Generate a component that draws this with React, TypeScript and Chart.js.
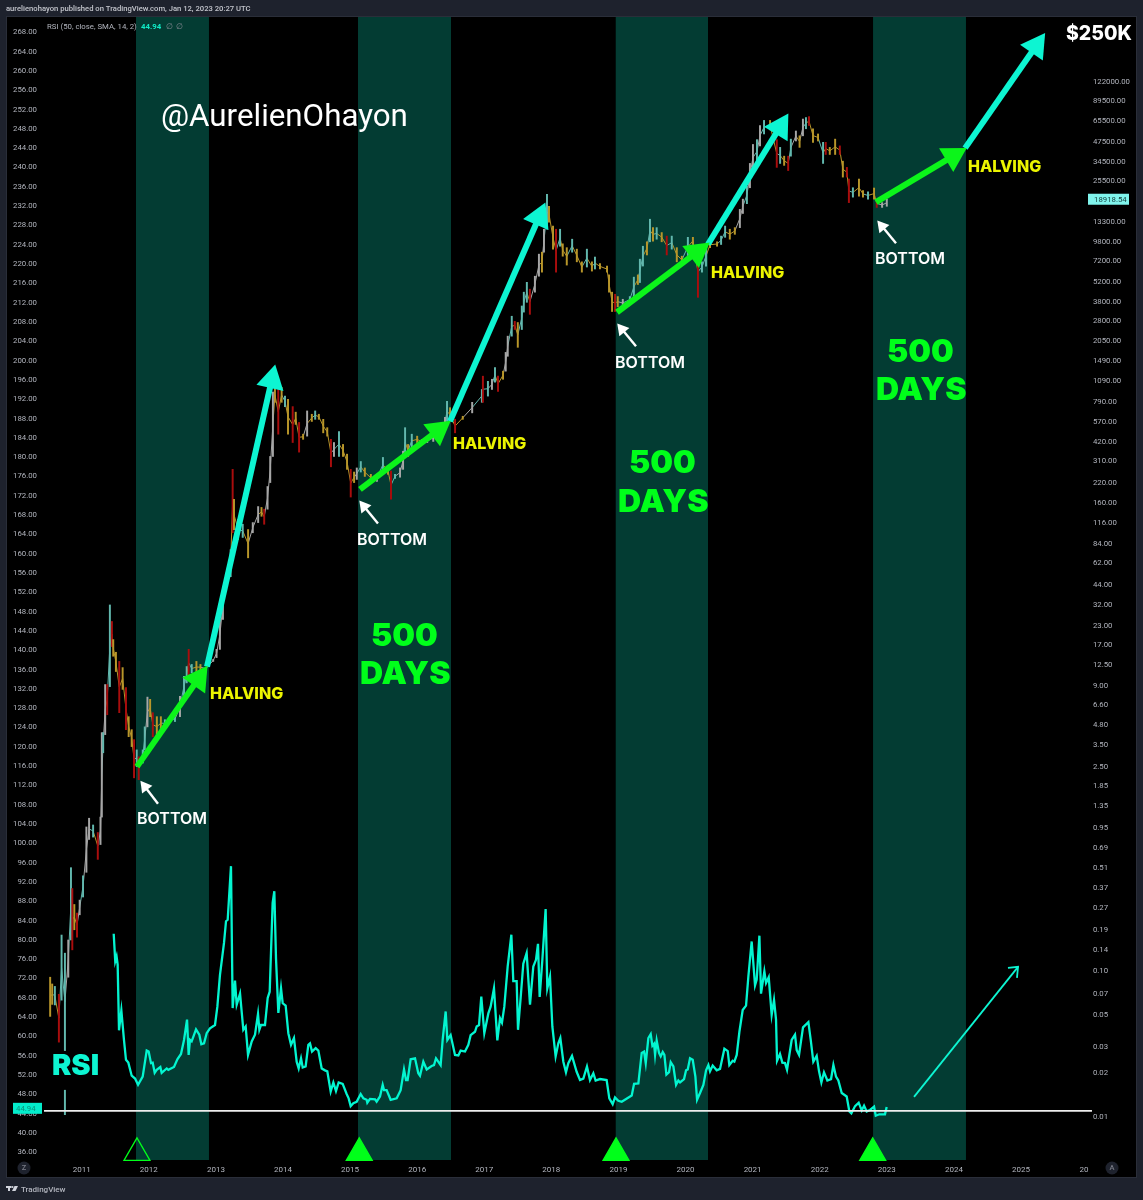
import { useEffect, useRef } from "react";
import { Chart, Plugin } from "chart.js/auto";

// time axis
const yearTicks = [2011, 2012, 2013, 2014, 2015, 2016, 2017, 2018, 2019, 2020, 2021, 2022, 2023, 2024, 2025, 2025.94];
const yearLabels = ["2011", "2012", "2013", "2014", "2015", "2016", "2017", "2018", "2019", "2020", "2021", "2022", "2023", "2024", "2025", "20"];

// left axis (RSI scale) and right axis (BTC price, log)
const rsiTicks = [268, 264, 260, 256, 252, 248, 244, 240, 236, 232, 228, 224, 220, 216, 212, 208, 204, 200, 196, 192, 188, 184, 180, 176, 172, 168, 164, 160, 156, 152, 148, 144, 140, 136, 132, 128, 124, 120, 116, 112, 108, 104, 100, 96, 92, 88, 84, 80, 76, 72, 68, 64, 60, 56, 52, 48, 44, 40, 36];
const priceTicks = [122000, 89500, 65500, 47500, 34500, 25500, 13300, 9800, 7200, 5200, 3800, 2800, 2050, 1490, 1090, 790, 570, 420, 310, 220, 160, 116, 84, 62, 44, 32, 23, 17, 12.5, 9, 6.6, 4.8, 3.5, 2.5, 1.85, 1.35, 0.95, 0.69, 0.51, 0.37, 0.27, 0.19, 0.14, 0.1, 0.07, 0.05, 0.03, 0.02, 0.01];

const lastRsi = 44.94;
const lastPrice = 18918.54;
const rsiLevel = 44.29;

// the 500 day windows
const bandStarts = [2011.809, 2015.118, 2018.956, 2022.795];
const bandEnds = [2012.897, 2016.505, 2020.335, 2024.18];
const markerDates = [2011.824, 2015.137, 2018.964, 2022.79];
const markerLevels = [35.6, 35.6, 35.6, 35.6];

const rsiDates = [
  2011.477, 2011.5, 2011.52, 2011.536, 2011.556, 2011.591, 2011.63, 2011.66, 2011.695, 2011.745, 2011.795, 2011.84, 2011.909, 2011.969, 2011.998,
  2012.033, 2012.058, 2012.088, 2012.118, 2012.172, 2012.192, 2012.267, 2012.291, 2012.376, 2012.426, 2012.48, 2012.525, 2012.57, 2012.594, 2012.614, 2012.639, 2012.704, 2012.753, 2012.783, 2012.823, 2012.863, 2012.912, 2012.987,
  2013.022, 2013.061, 2013.121, 2013.151, 2013.176, 2013.225, 2013.25, 2013.285, 2013.31, 2013.36, 2013.409, 2013.444, 2013.479, 2013.534, 2013.583, 2013.628, 2013.648, 2013.673, 2013.732, 2013.772, 2013.802, 2013.846, 2013.871, 2013.896, 2013.931, 2013.971, 2013.996,
  2014.04, 2014.08, 2014.12, 2014.164, 2014.204, 2014.234, 2014.269, 2014.294, 2014.338, 2014.378, 2014.403, 2014.433, 2014.487, 2014.527, 2014.577, 2014.626, 2014.661, 2014.711, 2014.751, 2014.79, 2014.83, 2014.89, 2014.949, 2014.979,
  2015.009, 2015.049, 2015.098, 2015.158, 2015.198, 2015.247, 2015.257, 2015.297, 2015.372, 2015.396, 2015.446, 2015.486, 2015.506, 2015.545, 2015.605, 2015.695, 2015.754, 2015.804, 2015.834, 2015.858, 2015.903, 2015.968,
  2016.017, 2016.042, 2016.092, 2016.142, 2016.216, 2016.251, 2016.281, 2016.35, 2016.38, 2016.425, 2016.45, 2016.499, 2016.564, 2016.614, 2016.648, 2016.713, 2016.763, 2016.797, 2016.862, 2016.887, 2016.922, 2016.956,
  2017.001, 2017.061, 2017.095, 2017.145, 2017.195, 2017.235, 2017.264, 2017.299, 2017.349, 2017.404, 2017.433, 2017.483, 2017.503, 2017.543, 2017.582, 2017.632, 2017.682, 2017.731, 2017.771, 2017.801, 2017.826, 2017.866, 2017.915, 2017.94, 2017.98,
  2018.015, 2018.064, 2018.104, 2018.134, 2018.179, 2018.218, 2018.253, 2018.308, 2018.377, 2018.427, 2018.477, 2018.531, 2018.576, 2018.626, 2018.66, 2018.725, 2018.824, 2018.864, 2018.914, 2018.949, 2018.998,
  2019.049, 2019.198, 2019.233, 2019.297, 2019.347, 2019.382, 2019.407, 2019.446, 2019.481, 2019.506, 2019.531, 2019.546, 2019.57, 2019.605, 2019.63, 2019.66, 2019.685, 2019.715, 2019.754, 2019.779, 2019.819, 2019.859, 2019.893, 2019.918, 2019.978,
  2020.008, 2020.033, 2020.067, 2020.107, 2020.147, 2020.172, 2020.216, 2020.266, 2020.306, 2020.341, 2020.365, 2020.405, 2020.465, 2020.514, 2020.579, 2020.629, 2020.653, 2020.703, 2020.728, 2020.763, 2020.803, 2020.852, 2020.902, 2020.937, 2020.986,
  2021.036, 2021.061, 2021.101, 2021.125, 2021.175, 2021.2, 2021.24, 2021.284, 2021.319, 2021.349, 2021.364, 2021.408, 2021.443, 2021.483, 2021.513, 2021.582, 2021.632, 2021.657, 2021.692, 2021.751, 2021.831, 2021.866, 2021.905, 2021.955, 2021.99,
  2022.025, 2022.064, 2022.114, 2022.169, 2022.204, 2022.243, 2022.278, 2022.328, 2022.402, 2022.442, 2022.472, 2022.527, 2022.581, 2022.626, 2022.661, 2022.7, 2022.75, 2022.81, 2022.835, 2022.889, 2022.973, 2022.998,
];
const rsiValues = [
  81, 75.3, 76.3, 74.6, 61, 65.1, 59, 54.9, 54.3, 51.6, 51, 49.7, 51.4, 56.8, 56.6,
  54.2, 54.3, 52.2, 52.8, 53.4, 52.2, 53.1, 52.8, 53.4, 55, 56.1, 59, 63.2, 55.9, 59, 58.7, 61.2, 60.1, 58.1, 58.3, 60.4, 61.4, 62.1,
  65.9, 72.5, 79.1, 83.6, 83.9, 95, 65.6, 71.3, 66.3, 68.6, 61.1, 61.8, 55.9, 58.7, 60.1, 64.4, 61.1, 62.1, 62.1, 67.7, 69, 87.4, 89.8, 75.9, 64.6, 69.7, 66.6,
  66.1, 60.4, 58, 59.4, 54.5, 53.1, 55.2, 53.3, 53.5, 58, 58.3, 56.6, 57.3, 56.8, 53.1, 52.7, 52.5, 48.3, 50.2, 48.4, 50.2, 49.9, 47.8, 46.9,
  45.3, 45.9, 46.2, 47.8, 46.9, 46.6, 46, 46.8, 46.7, 46.2, 47.3, 49.7, 48.6, 48.6, 46.6, 46.9, 48.6, 52.9, 50.7, 50.7, 55, 55.2,
  52.1, 51.6, 54.5, 52.9, 53.6, 53.8, 55.2, 53.8, 59, 64.9, 59, 60, 55.9, 55.8, 56.8, 56.6, 58, 60, 60.7, 61.8, 62.1, 68,
  60.4, 64.5, 65.9, 69.7, 58.9, 63.5, 62.6, 65.9, 74.2, 80.8, 71.2, 71.2, 61.1, 67.8, 74.8, 77, 66.3, 74.2, 75.6, 78.9, 67.9, 75.6, 86.1, 69.7, 72.1,
  61.8, 55.6, 58.3, 59.4, 54.5, 52.3, 54.2, 55.7, 52.4, 50.7, 51, 53.5, 50.7, 52.1, 50.6, 50.9, 50.7, 46.9, 45.7, 47.1, 46.4,
  46.2, 47.5, 49.9, 50, 56.3, 56.6, 54.2, 59.4, 60.2, 57.8, 58.2, 55.9, 58.9, 56.3, 55.6, 56.5, 55.9, 51.8, 52.3, 54.4, 53.5, 49.7, 50.6, 50.2, 50.9,
  52.7, 52.9, 55.2, 54.9, 51.4, 46.6, 48, 49.7, 52.7, 53.8, 52.5, 53.7, 52.7, 53, 57.2, 56.7, 53.8, 54.7, 54.5, 55.9, 60.7, 65.2, 66.1, 72.2, 79.4,
  70.3, 71.5, 80.6, 68.6, 73.2, 70.8, 72, 64.2, 67.3, 63.2, 54.7, 56.1, 54.3, 54.2, 52.8, 59, 60.1, 56.9, 55.9, 61.6, 62.7, 59, 54.5, 55.7, 52.5,
  50.2, 52.3, 50.6, 50.9, 53.8, 51.4, 50.6, 48, 47.3, 44.2, 43.8, 45.3, 46, 44.4, 45.4, 44.2, 44.5, 45.2, 43.3, 43.6, 43.6, 45.1,
];

// price candles, read as low/high ranges. kinds: g gray up, t teal up, o gold down, r red wick
const candleDates = [
  2010.53, 2010.56, 2010.6, 2010.66, 2010.7, 2010.75, 2010.75, 2010.8, 2010.84, 2010.86,
  2010.89, 2010.93, 2010.97, 2011.02, 2011.07, 2011.11, 2011.17, 2011.24, 2011.28, 2011.3,
  2011.32, 2011.35, 2011.38, 2011.42, 2011.45, 2011.47, 2011.51, 2011.56, 2011.61, 2011.66,
  2011.7, 2011.745, 2011.78, 2011.82, 2011.85, 2011.91, 2011.94, 2011.98, 2012.02, 2012.06,
  2012.12, 2012.18, 2012.24, 2012.32, 2012.39, 2012.465, 2012.525, 2012.565, 2012.595, 2012.64,
  2012.71, 2012.77, 2012.85, 2012.96, 2013.01, 2013.06, 2013.105, 2013.15, 2013.22, 2013.25,
  2013.27, 2013.33, 2013.4, 2013.48, 2013.55, 2013.63, 2013.68, 2013.72, 2013.77, 2013.81,
  2013.85, 2013.88, 2013.93, 2013.98, 2014.03, 2014.075, 2014.145, 2014.19, 2014.24, 2014.3,
  2014.36, 2014.43, 2014.48, 2014.535, 2014.6, 2014.66, 2014.715, 2014.76, 2014.835, 2014.895,
  2014.955, 2015.01, 2015.06, 2015.1, 2015.16, 2015.22, 2015.31, 2015.4, 2015.49, 2015.565,
  2015.61, 2015.67, 2015.745, 2015.79, 2015.82, 2015.865, 2015.92, 2016, 2016.07, 2016.15,
  2016.24, 2016.34, 2016.415, 2016.445, 2016.49, 2016.565, 2016.68, 2016.82, 2016.965, 2016.98,
  2017.055, 2017.115, 2017.16, 2017.205, 2017.28, 2017.32, 2017.35, 2017.41, 2017.455, 2017.5,
  2017.56, 2017.59, 2017.635, 2017.68, 2017.755, 2017.815, 2017.86, 2017.89, 2017.935, 2017.965,
  2018.025, 2018.07, 2018.13, 2018.17, 2018.23, 2018.31, 2018.38, 2018.455, 2018.53, 2018.605,
  2018.65, 2018.725, 2018.83, 2018.86, 2018.905, 2018.95, 2018.99, 2019.065, 2019.17, 2019.23,
  2019.29, 2019.32, 2019.365, 2019.425, 2019.47, 2019.515, 2019.57, 2019.645, 2019.72, 2019.795,
  2019.87, 2019.945, 2020.035, 2020.11, 2020.185, 2020.245, 2020.305, 2020.365, 2020.47, 2020.53,
  2020.59, 2020.66, 2020.735, 2020.81, 2020.855, 2020.915, 2020.96, 2021.005, 2021.065, 2021.11,
  2021.17, 2021.26, 2021.36, 2021.41, 2021.47, 2021.53, 2021.57, 2021.645, 2021.7, 2021.75,
  2021.795, 2021.84, 2021.9, 2021.975, 2022.05, 2022.09, 2022.15, 2022.23, 2022.3, 2022.345,
  2022.405, 2022.435, 2022.495, 2022.585, 2022.645, 2022.72, 2022.81, 2022.85, 2022.93, 2023,
];
const candleLows = [
  0.048, 0.058, 0.0575, 0.032, 0.062, 0.028, 0.0102, 0.089, 0.16, 0.137,
  0.188, 0.167, 0.238, 0.315, 0.465, 0.78, 0.81, 0.57, 0.72, 1.11,
  3.06, 4.07, 5.57, 8.67, 16.3, 14, 11, 5.75, 8.3, 4.4,
  3.94, 3.37, 2.06, 2.46, 2, 2.6, 3.2, 4.6, 5.4, 3.94,
  3.94, 4.4, 4.6, 5, 5, 5.4, 7.45, 9.2, 10.2, 10.8,
  10.8, 11.3, 11.3, 12.9, 13.7, 15.6, 25, 40, 49, 98,
  103, 88, 91, 66, 98, 115, 127, 112, 142, 216,
  326, 765, 463, 765, 715, 463, 406, 540, 349, 427,
  449, 566, 585, 585, 473, 449, 277, 326, 326, 326,
  266, 172, 216, 227, 255, 238, 220, 220, 255, 246,
  166, 231, 235, 266, 326, 326, 376, 406, 394, 406,
  413, 427, 513, 566, 566, 473, 585, 648, 765, 765,
  844, 937, 1050, 908, 1100, 1250, 1580, 2170, 2410, 1820,
  2410, 3170, 3700, 3060, 4340, 5580, 5950, 8150, 11700, 13100,
  8550, 5950, 8950, 7650, 6650, 8150, 7000, 5950, 6450, 6050,
  6250, 6250, 5950, 4340, 3200, 3200, 3450, 3450, 3680, 4050,
  4900, 5050, 6550, 7800, 9600, 9700, 10000, 9600, 7800, 8550,
  7000, 6800, 7650, 9200, 4000, 5950, 6550, 8750, 8950, 9200,
  10300, 10000, 10800, 12000, 15000, 17500, 22500, 29500, 33000, 43500,
  52500, 56000, 31000, 33000, 32000, 29500, 37000, 47000, 42500, 51000,
  57000, 60000, 46000, 47000, 33000, 38000, 38000, 38000, 38000, 26600,
  26600, 17800, 19400, 19700, 19400, 18800, 18800, 16500, 16500, 16800,
];
const candleHighs = [
  0.089, 0.08, 0.077, 0.068, 0.173, 0.13, 0.015, 0.16, 0.5, 0.36,
  0.28, 0.245, 0.3, 0.44, 0.95, 1.09, 0.98, 0.87, 1.11, 4.2,
  4.2, 8.96, 8.96, 31.4, 24.2, 18.2, 14.9, 12.9, 11.7, 8.55,
  5.4, 4.4, 3.76, 3.2, 2.87, 3.2, 4.6, 7.35, 7.1, 5.75,
  5.4, 5.4, 5.15, 5.3, 5.4, 7.45, 10.2, 11.9, 15.6, 12.3,
  12.9, 12.3, 11.7, 13.3, 15.6, 25, 40, 51, 75, 266,
  166, 121, 112, 103, 115, 148, 146, 142, 203, 326,
  900, 968, 937, 968, 844, 802, 715, 655, 557, 463,
  668, 634, 668, 634, 585, 513, 427, 406, 482, 394,
  338, 266, 255, 272, 301, 272, 246, 246, 321, 277,
  259, 246, 272, 354, 513, 394, 463, 449, 427, 427,
  463, 527, 604, 777, 703, 585, 614, 765, 937, 1155,
  1065, 1100, 1325, 1155, 1250, 1680, 2170, 2970, 2740, 2690,
  3490, 4340, 5070, 4550, 5580, 7900, 8150, 11700, 20300, 16800,
  12300, 11700, 11700, 9300, 8750, 10000, 8550, 7000, 8550, 7000,
  7550, 6800, 6550, 5700, 4340, 4200, 4050, 3880, 4050, 5500,
  5700, 7300, 8950, 9600, 13700, 12000, 12000, 11100, 10500, 10500,
  8750, 7650, 10300, 10300, 8950, 7000, 8950, 9600, 9600, 10500,
  12300, 11700, 12000, 16000, 18800, 23000, 33000, 44500, 48000, 60000,
  65000, 65000, 48000, 42500, 37000, 37000, 48400, 55000, 51000, 66400,
  68000, 69000, 57000, 52500, 46000, 46000, 42500, 48400, 43500, 34200,
  31000, 25800, 22500, 25800, 21500, 21100, 22400, 18800, 17800, 18800,
];
const candleKinds = [
  "o", "o", "t", "r", "t", "t", "t", "g", "t", "r",
  "o", "r", "g", "t", "g", "g", "t", "r", "g", "g",
  "t", "g", "r", "t", "r", "o", "o", "r", "o", "r",
  "o", "o", "r", "t", "r", "t", "t", "g", "o", "r",
  "o", "o", "t", "t", "t", "g", "t", "t", "r", "t",
  "o", "o", "g", "g", "g", "g", "g", "g", "t", "r",
  "o", "o", "t", "o", "g", "g", "o", "r", "g", "g",
  "g", "o", "r", "o", "t", "o", "r", "o", "r", "o",
  "g", "o", "t", "o", "o", "o", "r", "g", "t", "o",
  "o", "r", "o", "g", "t", "o", "o", "g", "t", "o",
  "r", "t", "g", "g", "t", "o", "t", "o", "o", "g",
  "g", "g", "g", "t", "o", "r", "o", "g", "t", "r",
  "t", "g", "t", "r", "o", "g", "g", "t", "r", "o",
  "t", "t", "t", "r", "g", "g", "o", "g", "t", "o",
  "o", "r", "t", "o", "o", "t", "o", "o", "t", "o",
  "t", "o", "o", "o", "o", "r", "o", "g", "t", "t",
  "o", "t", "t", "o", "t", "o", "t", "o", "r", "t",
  "o", "o", "t", "o", "r", "t", "t", "o", "o", "t",
  "t", "o", "o", "g", "g", "t", "g", "g", "t", "g",
  "t", "o", "r", "t", "o", "r", "t", "g", "o", "g",
  "t", "r", "o", "o", "t", "r", "o", "o", "r", "o",
  "r", "r", "t", "o", "o", "t", "o", "r", "g", "g",
];

// thick trend arrows, alternating green / teal
const trendTailDates = [2011.824, 2012.868, 2015.148, 2016.489, 2018.979, 2020.335, 2022.839, 2024.166];
const trendTailLevels = [115.62, 136.35, 173.05, 187.15, 209.75, 223.85, 232.56, 243.75];
const trendHeadDates = [2012.739, 2013.832, 2016.311, 2017.816, 2020.171, 2021.408, 2023.987, 2025.224];
const trendHeadLevels = [133.8, 195.71, 185.28, 229.45, 222.19, 248.11, 242.1, 264.9];

// small white arrows pointing at the bottoms
const bottomTailDates = [2012.137, 2015.416, 2019.262, 2023.137];
const bottomTailLevels = [107.95, 166, 202.7, 224.06];
const bottomHeadDates = [2011.943, 2015.208, 2019.053, 2022.929];
const bottomHeadLevels = [111.47, 169.53, 206.23, 227.58];

// thin arrow next to the RSI line
const rsiArrowDates = [2023.406, 2024.956];
const rsiArrowLevels = [47.2, 74.15];
const rsiArrowHeadDates = [2024.806, 2024.956, 2024.94];
const rsiArrowHeadLevels = [73.94, 74.15, 71.87];

const GREEN = "#0cf51a";
const LIME = "#00ff1a";
const TEAL = "#0df5d2";
const RSI_TEAL = "#03f5d0";
const KIND_COLORS: Record<string, string> = { g: "#a6a6a6", t: "#62b8ae", o: "#b8962a", r: "#a90d0d" };
const PATH_COLORS: Record<string, string> = { g: "#a6a6a6", t: "#62b8ae", o: "#b8962a", r: "#b8962a" };

const sansBold = "Inter";

type Label = { text: string; x: number; y: number; font: string; color: string };

const chartLabels: Label[] = [
  { text: "@AurelienOhayon", x: 161, y: 118, font: `400 31.3px Roboto`, color: "#ffffff" },
  { text: "$250K", x: 1066, y: 34.5, font: `800 19.5px ${sansBold}`, color: "#ffffff" },
  { text: "RSI", x: 52, y: 1066, font: `900 29px ${sansBold}`, color: TEAL },
  { text: "HALVING", x: 210, y: 694, font: `800 16px ${sansBold}`, color: "#ecf400" },
  { text: "HALVING", x: 453, y: 444, font: `800 16px ${sansBold}`, color: "#ecf400" },
  { text: "HALVING", x: 711, y: 273, font: `800 16px ${sansBold}`, color: "#ecf400" },
  { text: "HALVING", x: 968, y: 167, font: `800 16px ${sansBold}`, color: "#ecf400" },
  { text: "BOTTOM", x: 137, y: 819, font: `600 16px ${sansBold}`, color: "#ffffff" },
  { text: "BOTTOM", x: 357, y: 540, font: `600 16px ${sansBold}`, color: "#ffffff" },
  { text: "BOTTOM", x: 615, y: 363, font: `600 16px ${sansBold}`, color: "#ffffff" },
  { text: "BOTTOM", x: 875, y: 259, font: `600 16px ${sansBold}`, color: "#ffffff" },
  { text: "500", x: 371, y: 636, font: `900 32px ${sansBold}`, color: LIME },
  { text: "DAYS", x: 360, y: 674, font: `900 32px ${sansBold}`, color: LIME },
  { text: "500", x: 629, y: 463, font: `900 32px ${sansBold}`, color: LIME },
  { text: "DAYS", x: 618, y: 502, font: `900 32px ${sansBold}`, color: LIME },
  { text: "500", x: 887, y: 352, font: `900 32px ${sansBold}`, color: LIME },
  { text: "DAYS", x: 876, y: 390, font: `900 32px ${sansBold}`, color: LIME },
  { text: "RSI (50, close, SMA, 14, 2)", x: 47, y: 27, font: "7.8px Roboto", color: "#b2b5be" },
  { text: "44.94", x: 141, y: 27, font: "700 7.8px Roboto", color: "#10e8c4" },
  { text: "∅", x: 166, y: 27, font: "7.8px Roboto", color: "#868993" },
  { text: "∅", x: 176, y: 27, font: "7.8px Roboto", color: "#868993" },
];

function tagBox(ctx: CanvasRenderingContext2D, text: string, x: number, w: number, y: number, h: number, fill: string, color: string, inset: number) {
  ctx.fillStyle = fill;
  ctx.fillRect(x, y - h / 2, w, h);
  ctx.fillStyle = color;
  ctx.font = "7.8px Roboto";
  ctx.textAlign = "left";
  ctx.textBaseline = "middle";
  ctx.fillText(text, x + inset, y + 0.5);
}

// frame, header, footer, annotation text and last value tags
const tradingViewFrame: Plugin = {
  id: "tradingViewFrame",
  beforeDraw(chart) {
    const ctx = chart.ctx;
    ctx.save();
    ctx.fillStyle = "#1e222d";
    ctx.fillRect(0, 0, chart.width, chart.height);
    ctx.fillStyle = "#2a2e39";
    ctx.fillRect(6, 16, 1131, 1162);
    ctx.fillStyle = "#000000";
    ctx.fillRect(7, 17, 1129, 1160);
    ctx.restore();
  },
  afterDraw(chart) {
    const ctx = chart.ctx;
    ctx.save();
    ctx.textBaseline = "middle";
    ctx.textAlign = "left";

    ctx.fillStyle = "#c3c5cc";
    ctx.font = "500 7.65px Roboto";
    ctx.fillText("aurelienohayon published on TradingView.com, Jan 12, 2023 20:27 UTC", 6, 9.5);

    chartLabels.forEach((l) => {
      ctx.font = l.font;
      ctx.fillStyle = l.color;
      ctx.fillText(l.text, l.x, l.y);
    });

    const rsiY = chart.scales.rsi.getPixelForValue(lastRsi);
    tagBox(ctx, lastRsi.toFixed(2), 13, 29, rsiY + 0.5, 11, "#03eccb", "#0a8f7a", 3);
    const priceY = chart.scales.price.getPixelForValue(lastPrice);
    tagBox(ctx, lastPrice.toFixed(2), 1088, 41, priceY + 0.5, 11, "#80f4ec", "#123c3a", 6);

    // Z / A buttons on the time axis
    [{ t: "Z", x: 24 }, { t: "A", x: 1112 }].forEach((b) => {
      ctx.fillStyle = "#1e222d";
      ctx.beginPath();
      ctx.arc(b.x, 1168, 6.5, 0, Math.PI * 2);
      ctx.fill();
      ctx.fillStyle = "#787b86";
      ctx.font = "500 7.5px Roboto";
      ctx.textAlign = "center";
      ctx.fillText(b.t, b.x, 1168.5);
    });

    // footer logo
    ctx.fillStyle = "#d1d4dc";
    ctx.fillRect(6, 1186, 5.5, 2);
    ctx.fillRect(8, 1186, 2, 5);
    ctx.beginPath();
    ctx.arc(12.5, 1187, 1, 0, Math.PI * 2);
    ctx.fill();
    ctx.beginPath();
    ctx.moveTo(14.5, 1186);
    ctx.lineTo(18, 1186);
    ctx.lineTo(15.5, 1191);
    ctx.lineTo(12, 1191);
    ctx.closePath();
    ctx.fill();
    ctx.textAlign = "left";
    ctx.fillStyle = "#b2b5be";
    ctx.font = "500 8px Roboto";
    ctx.fillText("TradingView", 21, 1189.5);
    ctx.restore();
  },
};

export default function App() {
  const canvasRef = useRef<HTMLCanvasElement>(null);

  useEffect(() => {
    if (!canvasRef.current) return;

    const bands = bandStarts.map((start, i) => ({
      type: "line" as const,
      data: [{ x: start, y: 270.92 }, { x: bandEnds[i], y: 270.92 }],
      yAxisID: "rsi",
      borderWidth: 0,
      pointRadius: 0,
      backgroundColor: "#033c33",
      fill: "start",
      order: 20,
    }));

    const candles = {
      type: "bar" as const,
      data: candleDates.map((d, i) => ({ x: d, y: [candleLows[i], candleHighs[i]] })),
      yAxisID: "price",
      backgroundColor: candleKinds.map((k) => KIND_COLORS[k]),
      barThickness: 1.3,
      grouped: false,
      order: 10,
    };

    // thin path through the middle of each range, so the candles read as one continuous run
    const candlePath = {
      type: "line" as const,
      data: candleDates.map((d, i) => ({ x: d, y: candleLows[i] < 0.02 ? null : Math.sqrt(candleLows[i] * candleHighs[i]) })),
      yAxisID: "price",
      spanGaps: true,
      borderWidth: 1,
      pointRadius: 0,
      tension: 0,
      borderColor: "#a6a6a6",
      segment: { borderColor: (c: any) => PATH_COLORS[candleKinds[c.p1DataIndex]] },
      order: 11,
    };

    const rsiLine = {
      type: "line" as const,
      data: rsiDates.map((d, i) => ({ x: d, y: rsiValues[i] })),
      yAxisID: "rsi",
      borderColor: RSI_TEAL,
      borderWidth: 2.3,
      pointRadius: 0,
      tension: 0,
      order: 8,
    };

    const levelLine = {
      type: "line" as const,
      data: [{ x: 2010.438, y: rsiLevel }, { x: 2026.058, y: rsiLevel }],
      yAxisID: "rsi",
      borderColor: "#eeeeee",
      borderWidth: 1.8,
      pointRadius: 0,
      order: 7,
    };

    // the arrow head is a rotated triangle point, turned along the tail -> head line
    const arrowAngle = (ctx: any) => {
      if (ctx.dataIndex !== 1) return 0;
      const pts = ctx.dataset.data;
      const { x, rsi } = ctx.chart.scales;
      const dx = x.getPixelForValue(pts[1].x) - x.getPixelForValue(pts[0].x);
      const dy = rsi.getPixelForValue(pts[1].y) - rsi.getPixelForValue(pts[0].y);
      return (Math.atan2(dx, -dy) * 180) / Math.PI;
    };

    const trendArrows = trendTailDates.map((d, i) => {
      const color = i % 2 === 0 ? GREEN : TEAL;
      return {
        type: "line" as const,
        data: [{ x: d, y: trendTailLevels[i] }, { x: trendHeadDates[i], y: trendHeadLevels[i] }],
        yAxisID: "rsi",
        borderColor: color,
        backgroundColor: color,
        borderWidth: 6,
        borderCapStyle: "butt" as const,
        pointStyle: "triangle",
        pointRadius: [0, 16],
        pointBorderWidth: 0,
        pointRotation: arrowAngle,
        order: i % 2 === 0 ? 2 : 3,
      };
    });

    const bottomArrows = bottomTailDates.map((d, i) => ({
      type: "line" as const,
      data: [{ x: d, y: bottomTailLevels[i] }, { x: bottomHeadDates[i], y: bottomHeadLevels[i] }],
      yAxisID: "rsi",
      borderColor: "#ffffff",
      backgroundColor: "#ffffff",
      borderWidth: 2.4,
      pointStyle: "triangle",
      pointRadius: [0, 7.5],
      pointBorderWidth: 0,
      pointRotation: arrowAngle,
      order: 1,
    }));

    const rsiArrow = {
      type: "line" as const,
      data: rsiArrowDates.map((d, i) => ({ x: d, y: rsiArrowLevels[i] })),
      yAxisID: "rsi",
      borderColor: TEAL,
      borderWidth: 1.8,
      pointRadius: 0,
      order: 1,
    };
    const rsiArrowHead = {
      type: "line" as const,
      data: rsiArrowHeadDates.map((d, i) => ({ x: d, y: rsiArrowHeadLevels[i] })),
      yAxisID: "rsi",
      borderColor: TEAL,
      borderWidth: 1.8,
      pointRadius: 0,
      order: 1,
    };

    const markers = {
      type: "line" as const,
      data: markerDates.map((d, i) => ({ x: d, y: markerLevels[i] })),
      yAxisID: "rsi",
      showLine: false,
      clip: false,
      pointStyle: "triangle",
      pointRadius: 15,
      pointBorderWidth: 1.3,
      pointBorderColor: LIME,
      pointBackgroundColor: ["rgba(0,0,0,0)", LIME, LIME, LIME],
      order: 0,
    };

    const axisFont = { family: "Roboto", size: 7.8 };

    const chart = new Chart(canvasRef.current, {
      type: "line",
      data: {
        datasets: [...bands, candlePath, candles, rsiLine, levelLine, ...trendArrows, ...bottomArrows, rsiArrow, rsiArrowHead, markers] as any,
      },
      options: {
        responsive: false,
        animation: false,
        devicePixelRatio: 1,
        parsing: undefined,
        layout: { autoPadding: false, padding: { left: 7, top: 17, right: 7, bottom: 23 } },
        plugins: { legend: { display: false }, tooltip: { enabled: false } },
        scales: {
          x: {
            type: "linear",
            bounds: "data",
            offset: false,
            min: 2009.8866,
            max: 2026.7143,
            grid: { display: false },
            border: { display: false },
            afterBuildTicks: (s: any) => { s.ticks = yearTicks.map((value) => ({ value })); },
            afterFit: (s: any) => { s.height = 17; s.paddingLeft = 0; s.paddingRight = 0; },
            ticks: {
              autoSkip: false,
              maxRotation: 0,
              padding: -3,
              color: "#b2b5be",
              font: { family: "Roboto", size: 8 },
              callback: (v: any) => yearLabels[yearTicks.indexOf(v)],
            },
          },
          rsi: {
            type: "linear",
            axis: "y",
            position: "left",
            bounds: "data",
            min: 34.13,
            max: 270.92,
            grid: { display: false },
            border: { display: false },
            afterBuildTicks: (s: any) => { s.ticks = rsiTicks.map((value) => ({ value })); },
            afterFit: (s: any) => { s.width = 0; },
            ticks: {
              mirror: true,
              crossAlign: "far",
              autoSkip: false,
              padding: 6,
              labelOffset: 1.3,
              color: "#b2b5be",
              font: axisFont,
              callback: (v: any) => Number(v).toFixed(2),
            },
          },
          price: {
            type: "logarithmic",
            axis: "y",
            position: "right",
            bounds: "data",
            min: 0.004995,
            max: 331600,
            grid: { display: false },
            border: { display: false },
            afterBuildTicks: (s: any) => { s.ticks = priceTicks.map((value) => ({ value })); },
            afterFit: (s: any) => { s.width = 0; },
            ticks: {
              mirror: true,
              crossAlign: "far",
              autoSkip: false,
              padding: -6,
              labelOffset: 1.3,
              color: "#b2b5be",
              font: axisFont,
              callback: (v: any) => Number(v).toFixed(2),
            },
          },
        },
      } as any,
      plugins: [tradingViewFrame],
    });

    return () => {
      chart.destroy();
    };
  }, []);

  return (
    <div style={{ position: "absolute", left: 0, top: 0, width: 1143, height: 1200 }}>
      <canvas ref={canvasRef} width={1143} height={1200} style={{ display: "block" }} />
    </div>
  );
}
